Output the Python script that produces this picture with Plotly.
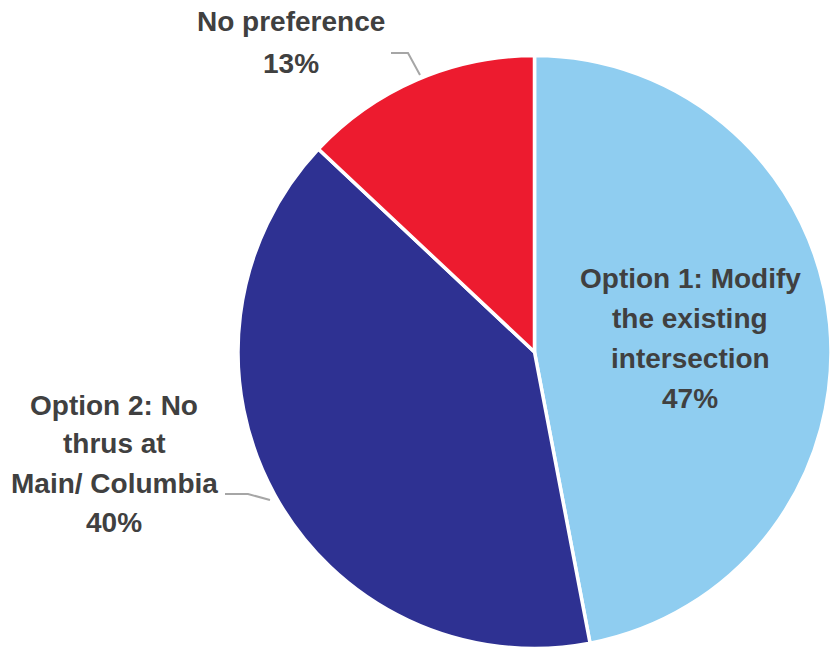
import plotly.graph_objects as go

# Survey responses on the intersection options
categories = ["Option 1: Modify the existing intersection",
              "Option 2: No thrus at Main/ Columbia",
              "No preference"]
shares = [47, 40, 13]
label_lines = [["Option 1: Modify", "the existing", "intersection"],
               ["Option 2: No", "thrus at", "Main/ Columbia"],
               ["No preference"]]
colors = ["#8FCDF0", "#2E3192", "#ED1B2F"]

W, H = 831, 655
TEXT = "#404040"
FONT = "Liberation Sans, Arial, sans-serif"


def px(x, y):
    """Convert pixel position to paper coordinates."""
    return x / W, 1 - y / H


fig = go.Figure(go.Pie(
    labels=categories,
    values=shares,
    sort=False,
    direction="clockwise",
    rotation=0,
    textinfo="none",
    hoverinfo="label+percent",
    marker=dict(colors=colors, line=dict(color="white", width=3.5)),
    domain=dict(x=[238 / W, 1.0], y=[3 / H, 603 / H]),
    showlegend=False,
))

# Label blocks: centre x, first-line y, line step (pixels)
blocks = [(690, 278, 40), (114, 405, 39), (291, 22, 42)]
annotations = []
for lines, share, (cx, y0, step) in zip(label_lines, shares, blocks):
    for i, txt in enumerate(lines + [f"{share}%"]):
        x, y = px(cx, y0 + i * step)
        annotations.append(dict(
            x=x, y=y, xref="paper", yref="paper", text=f"<b>{txt}</b>",
            showarrow=False, xanchor="center", yanchor="middle",
            font=dict(family=FONT, size=28, color=TEXT),
        ))

# Leader lines for labels placed outside the pie
leaders = [
    [(391, 53), (408, 53), (420, 75)],
    [(225, 494), (248, 494), (270, 500)],
]
shapes = []
for pts in leaders:
    p = [px(*q) for q in pts]
    path = "M {} {}".format(*p[0]) + "".join(" L {} {}".format(*q) for q in p[1:])
    shapes.append(dict(type="path", path=path, xref="paper", yref="paper",
                       line=dict(color="#A6A6A6", width=2)))

fig.update_layout(
    width=W, height=H,
    margin=dict(l=0, r=0, t=0, b=0),
    paper_bgcolor="white", plot_bgcolor="white",
    annotations=annotations, shapes=shapes,
)

fig.write_html("out.html")
